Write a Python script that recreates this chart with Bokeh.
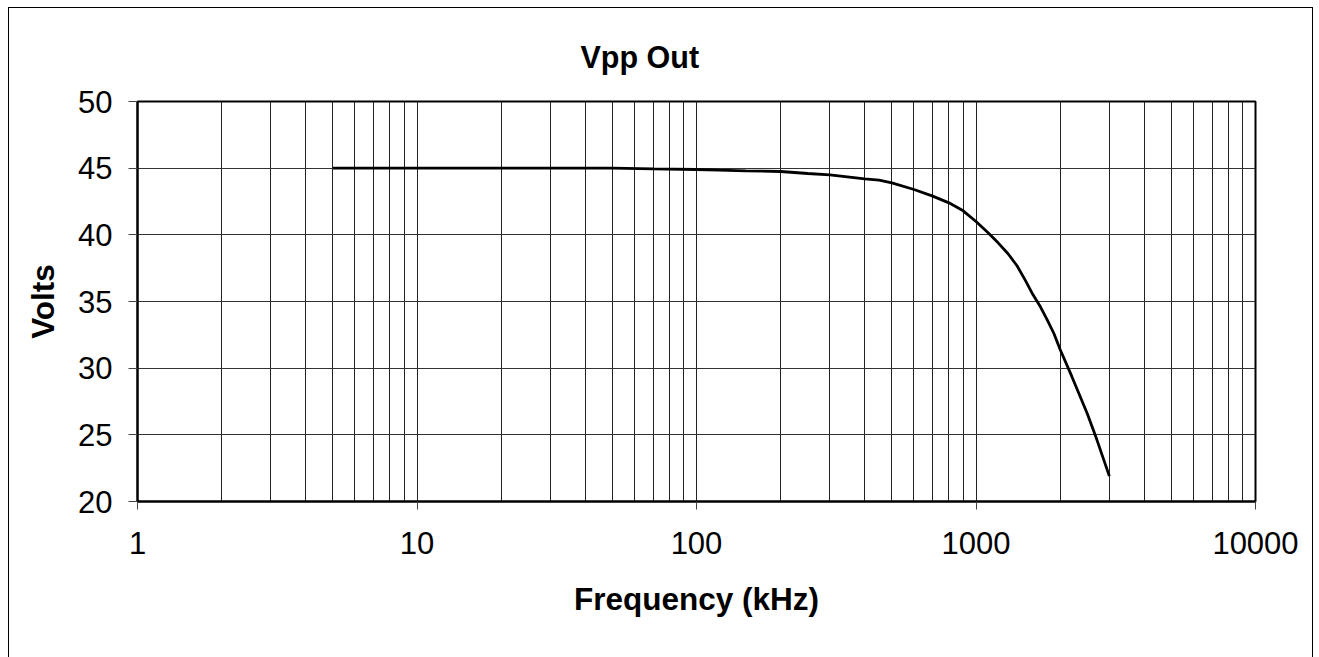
from bokeh.plotting import figure
from bokeh.models import (Range1d, FixedTicker, LogTicker, NumeralTickFormatter, Title)
from bokeh.embed import file_html
from bokeh.resources import INLINE

# Data (frequency in kHz, output in volts peak-to-peak)
freq_khz = [5, 10, 20, 30, 50, 70, 100, 120, 150, 200, 250, 300, 400, 450, 500,
            600, 700, 800, 900, 1000, 1100, 1200, 1300, 1400, 1500, 1600, 1700,
            1800, 1900, 2000, 2200, 2500, 2700, 3000]
vpp_out = [45.0, 45.0, 45.0, 45.0, 45.0, 44.95, 44.9, 44.85, 44.8, 44.75, 44.6,
           44.5, 44.2, 44.1, 43.9, 43.4, 42.9, 42.4, 41.8, 41.0, 40.2, 39.4,
           38.6, 37.7, 36.6, 35.5, 34.6, 33.6, 32.6, 31.4, 29.4, 26.6, 24.7, 21.9]
y_ticks = [20, 25, 30, 35, 40, 45, 50]

FONT = "Liberation Sans"

p = figure(width=1305, height=656, x_axis_type="log",
           x_range=Range1d(1, 10000), y_range=Range1d(20, 50),
           output_backend="svg", toolbar_location=None,
           min_border_left=128, min_border_right=59,
           min_border_top=93, min_border_bottom=163)
p.styles = {"border": "1px solid black", "margin-left": "8px", "margin-top": "7px"}

title = Title(text="Vpp Out", align="left", offset=443, standoff=56,
              text_line_height=0.8,
              text_font=FONT, text_font_size="30.5px", text_font_style="bold",
              text_color="black")
p.add_layout(title, "above")

p.line(freq_khz, vpp_out, line_color="black", line_width=2.8)

# Axes
p.xaxis.ticker = LogTicker(num_minor_ticks=10)
p.xaxis.formatter = NumeralTickFormatter(format="0")
p.yaxis.ticker = FixedTicker(ticks=y_ticks)

for ax in (p.xaxis[0], p.yaxis[0]):
    ax.major_label_text_font = FONT
    ax.major_label_text_font_size = "31px"
    ax.major_label_text_color = "black"
    ax.axis_label_text_font = FONT
    ax.axis_label_text_font_size = "31.5px"
    ax.axis_label_text_font_style = "bold"
    ax.axis_label_text_color = "black"
    ax.minor_tick_line_color = None
    ax.major_tick_in = 0
    ax.major_tick_line_color = "#444444"
    ax.axis_line_color = "black"
    ax.axis_line_width = 2

p.xaxis.axis_label = "Frequency (kHz)"
p.yaxis.axis_label = "Volts"
p.xaxis.major_tick_out = 8
p.xaxis.major_label_standoff = 22
p.xaxis.axis_label_standoff = 24
p.yaxis.major_tick_out = 9
p.yaxis.major_label_standoff = 16
p.yaxis.axis_label_standoff = 14

# Grid
p.xgrid.grid_line_color = "#222222"
p.xgrid.grid_line_width = 1
p.xgrid.minor_grid_line_color = "#222222"
p.xgrid.minor_grid_line_width = 1
p.ygrid.grid_line_color = "#333333"
p.ygrid.grid_line_width = 1

p.outline_line_color = "black"
p.outline_line_width = 2
p.background_fill_color = "white"
p.border_fill_color = "white"

open("out.html", "w").write(file_html(p, INLINE))
